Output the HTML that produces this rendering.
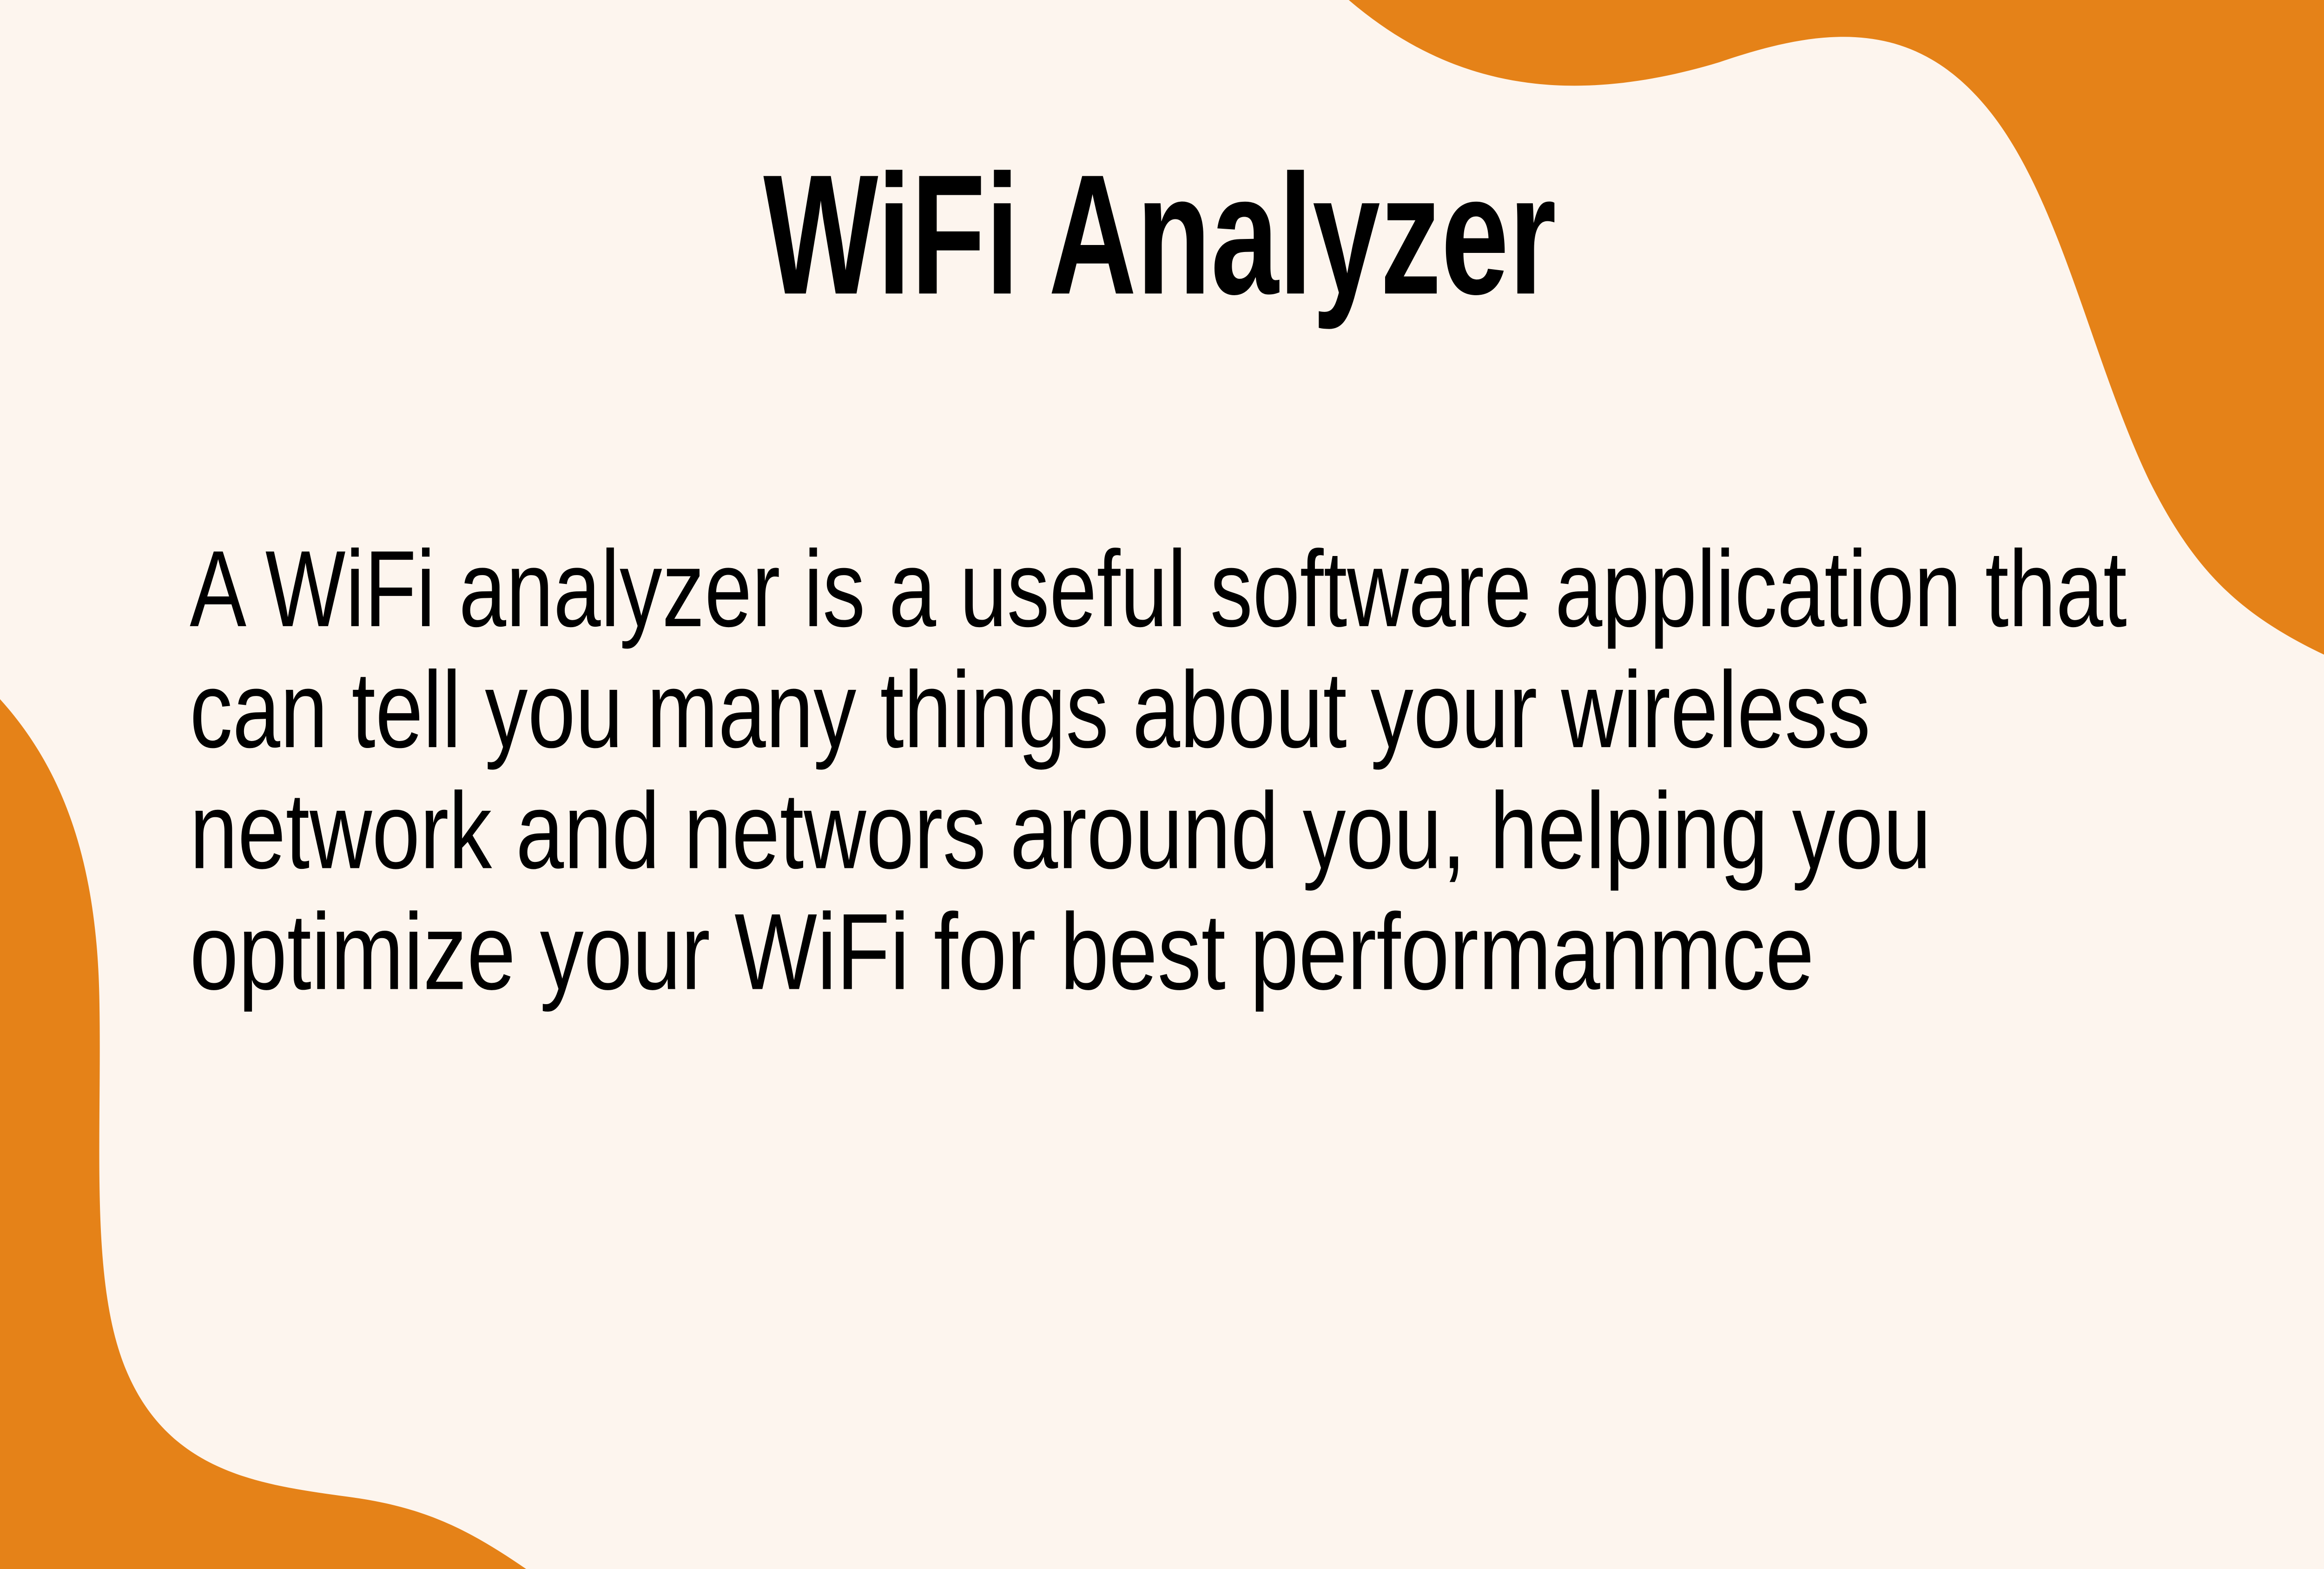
<!DOCTYPE html>
<html>
<head>
<meta charset="utf-8">
<style>
html,body{margin:0;padding:0;background:#FDF5EE;overflow:hidden;width:100%;height:100%;}
svg{display:block;width:100vw;height:100vh;}
</style>
</head>
<body>
<svg viewBox="0 0 1568 882" preserveAspectRatio="none" xmlns="http://www.w3.org/2000/svg">
<rect x="0" y="0" width="1568" height="882" fill="#FDF5EE"/>
<path d="M910,0 C980,50 1060,60 1160,35 C1230,15 1290,10 1340,60 C1390,110 1410,200 1450,270 C1480,320 1510,345 1568,368 L1568,0 Z" fill="#E58218"/>
<path d="M0,393 C40,430 65,480 67,560 C69,640 60,720 85,770 C115,830 180,835 240,842 C290,848 320,862 355,882 L0,882 Z" fill="#E58218"/>
<g font-family="'Liberation Sans', sans-serif" fill="#000">
<text x="515" y="165" font-size="96" font-weight="bold" textLength="535" lengthAdjust="spacingAndGlyphs">WiFi Analyzer</text>
<g font-size="61">
<text x="128" y="352" textLength="1307" lengthAdjust="spacingAndGlyphs">A WiFi analyzer is a useful software application that</text>
<text x="128" y="420" textLength="1134" lengthAdjust="spacingAndGlyphs">can tell you many things about your wireless</text>
<text x="128" y="488" textLength="1175" lengthAdjust="spacingAndGlyphs">network and networs around you, helping you</text>
<text x="128" y="556" textLength="1096" lengthAdjust="spacingAndGlyphs">optimize your WiFi for best performanmce</text>
</g>
</g>
</svg>
</body>
</html>
